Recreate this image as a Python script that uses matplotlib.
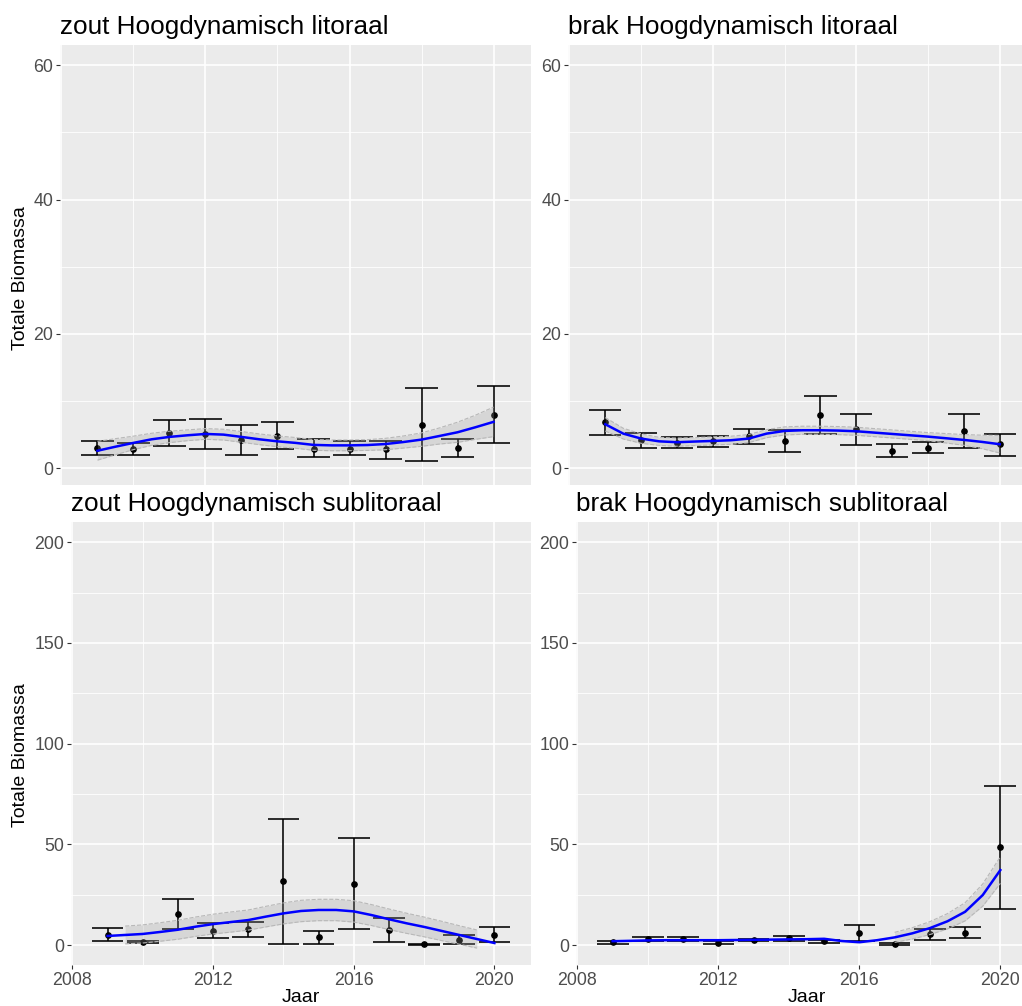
import numpy as np
import matplotlib
matplotlib.use("Agg")
import matplotlib.pyplot as plt

plt.rcParams["font.family"] = ["Liberation Sans", "DejaVu Sans"]

# jaarlijkse gemiddelden met onder- en bovengrens
YEARS = [2009, 2010, 2011, 2012, 2013, 2014, 2015, 2016, 2017, 2018, 2019, 2020]
SMOOTH_X = np.arange(2009, 2020.01, 0.5)
NAN = np.nan

TITLES = ["zout Hoogdynamisch litoraal", "brak Hoogdynamisch litoraal",
          "zout Hoogdynamisch sublitoraal", "brak Hoogdynamisch sublitoraal"]

# zout litoraal
ZL_MEAN = [3.07, 2.9, 5.25, 5.15, 4.2, 4.85, 2.9, 2.9, 2.8, 6.5, 3.07, 7.93]
ZL_HI = [4.0, 3.8, 7.2, 7.3, 6.5, 6.85, 4.3, 4.0, 4.06, 12.0, 4.3, 12.2]
ZL_LO = [2.0, 2.0, 3.3, 2.8, 1.9, 2.8, 1.6, 2.0, 1.34, 1.04, 1.73, 3.77]
ZL_FIT = [2.6, 3.2, 3.77, 4.3, 4.66, 4.9, 5.1, 5.0, 4.66, 4.3, 4.0, 3.77,
          3.47, 3.4, 3.4, 3.45, 3.6, 3.9, 4.26, 4.8, 5.35, 6.1, 6.9]
ZL_SE = [1.4, 1.2, 1.0, 0.9, 0.85, 0.8, 0.8, 0.8, 0.8, 0.8, 0.8, 0.8,
         0.8, 0.8, 0.8, 0.8, 0.85, 0.9, 1.0, 1.2, 1.5, 1.8, 2.2]

# brak litoraal
BL_MEAN = [6.9, 4.16, 3.8, 4.06, 4.76, 4.06, 7.93, 5.8, 2.63, 3.07, 5.55, 3.57]
BL_HI = [8.7, 5.3, 4.66, 4.85, 5.8, 5.75, 10.75, 8.07, 3.57, 3.87, 8.0, 5.1]
BL_LO = [5.0, 2.97, 3.0, 3.17, 3.67, 2.38, 5.15, 3.5, 1.73, 2.33, 3.0, 1.88]
BL_FIT = [6.54, 5.15, 4.41, 4.0, 3.87, 3.97, 4.06, 4.16, 4.41, 5.15, 5.55, 5.65,
          5.65, 5.6, 5.5, 5.3, 5.1, 4.9, 4.7, 4.46, 4.21, 3.92, 3.57]
BL_SE = [1.0, 0.8, 0.7, 0.6, 0.6, 0.6, 0.6, 0.6, 0.6, 0.6, 0.6, 0.6,
         0.6, 0.6, 0.6, 0.6, 0.6, 0.6, 0.6, 0.7, 0.8, 1.0, 1.3]

# zout sublitoraal
ZS_MEAN = [5.3, 1.5, 15.7, 7.2, 7.9, 31.8, 4.1, 30.5, 7.4, 0.5, 2.8, 5.3]
ZS_HI = [8.4, 2.0, 23.1, 10.9, 11.5, 62.7, 7.2, 53.3, 13.4, 0.8, 4.95, 9.2]
ZS_LO = [2.3, 1.0, 8.2, 3.6, 4.1, 0.8, 0.8, 7.9, 1.6, 0.3, 0.8, 1.6]
ZS_FIT = [4.6, 5.1, 5.6, 6.6, 7.7, 9.2, 10.5, 11.5, 12.5, 14.2, 15.8, 17.0,
          17.5, 17.5, 16.8, 15.0, 12.9, 10.9, 9.1, 7.1, 5.1, 3.1, 1.1]
ZS_SE = [NAN, 4.4, 4.5, 4.6, 4.7, 4.8, 4.9, 5.0, 5.0, 5.1, 5.2, 5.3,
         5.3, 5.3, 5.3, 5.2, 5.1, 5.0, 4.9, 4.8, 4.6, 4.5, NAN]

# brak sublitoraal
BS_MEAN = [1.5, 3.1, 3.0, 1.3, 2.6, 3.6, 2.0, 6.1, 0.6, 5.4, 6.1, 48.5]
BS_HI = [2.0, 4.1, 4.0, 2.0, 3.3, 4.6, 2.6, 9.9, 0.95, 8.1, 8.9, 79.2]
BS_LO = [0.8, 2.0, 2.0, 0.8, 2.0, 2.0, 1.1, 2.0, 0.3, 2.5, 3.5, 18.0]
BS_FIT = [2.0, 2.2, 2.4, 2.5, 2.5, 2.5, 2.5, 2.6, 2.7, 2.8, 2.9, 3.0,
          3.2, 2.1, 1.5, 2.5, 3.9, 5.9, 8.5, 11.9, 16.6, 24.9, 37.3]
BS_SE = [NAN, NAN, NAN, NAN, NAN, NAN, NAN, NAN, NAN, NAN, NAN, NAN,
         NAN, NAN, NAN, NAN, 2.5, 2.8, 3.2, 3.8, 4.5, 5.5, 6.6]

X_TICKS = [2008, 2012, 2016, 2020]
X_MINOR = [2010, 2014, 2018]
Y_TICKS_LIT = [0, 20, 40, 60]
Y_MINOR_LIT = [10, 30, 50]
Y_TICKS_SUB = [0, 50, 100, 150, 200]
Y_MINOR_SUB = [25, 75, 125, 175]

W, H = 1022, 1006
fig = plt.figure(figsize=(W / 100, H / 100), dpi=100)


def px_axes(left, right, top, bottom):
    return fig.add_axes([left / W, 1 - bottom / H, (right - left) / W, (bottom - top) / H])


def panel(ax, title, mean, lo, hi, fit, se, ylim, yticks, yminor, xlabels):
    ax.set_facecolor("#EBEBEB")
    for s in ax.spines.values():
        s.set_visible(False)
    ax.set_xlim(2007.96, 2021.04)
    ax.set_ylim(*ylim)
    ax.set_xticks(X_TICKS)
    ax.set_xticks(X_MINOR, minor=True)
    ax.set_yticks(yticks)
    ax.set_yticks(yminor, minor=True)
    ax.grid(which="major", color="white", linewidth=1.2)
    ax.grid(which="minor", color="white", linewidth=0.6)
    ax.set_axisbelow(True)
    ax.tick_params(which="minor", length=0)
    ax.tick_params(which="major", color="#333333", length=3, width=0.8,
                   labelsize=12.8, labelcolor="#4D4D4D", pad=2)
    if not xlabels:
        ax.tick_params(axis="x", which="major", length=0, labelbottom=False)
    else:
        ax.set_xlabel("Jaar", fontsize=14, labelpad=0)

    x = np.array(YEARS)
    ax.vlines(x, lo, hi, color="black", linewidth=1.15, zorder=3)
    ax.hlines(hi, x - 0.45, x + 0.45, color="black", linewidth=1.15, zorder=3)
    ax.hlines(lo, x - 0.45, x + 0.45, color="black", linewidth=1.15, zorder=3)
    ax.plot(x, mean, "o", color="black", markersize=3.8, zorder=4)

    fit = np.array(fit)
    se = np.array(se)
    ax.fill_between(SMOOTH_X, fit - se, fit + se, color="#9A9A9A",
                    alpha=0.26, linewidth=0, zorder=5)
    ax.plot(SMOOTH_X, fit - se, color="#B8B8B8", linestyle="--", linewidth=0.8, zorder=5)
    ax.plot(SMOOTH_X, fit + se, color="#B8B8B8", linestyle="--", linewidth=0.8, zorder=5)
    ax.plot(SMOOTH_X, fit, color="#0000FF", linewidth=1.8, zorder=6)
    ax.set_title(title, loc="left", fontsize=18.8, pad=8)


ax1 = px_axes(60, 531, 45, 485)
panel(ax1, TITLES[0], ZL_MEAN, ZL_LO, ZL_HI, ZL_FIT, ZL_SE,
      (-2.5, 63), Y_TICKS_LIT, Y_MINOR_LIT, False)
ax2 = px_axes(568, 1037, 45, 485)
panel(ax2, TITLES[1], BL_MEAN, BL_LO, BL_HI, BL_FIT, BL_SE,
      (-2.5, 63), Y_TICKS_LIT, Y_MINOR_LIT, False)
ax3 = px_axes(71, 531, 522, 965)
panel(ax3, TITLES[2], ZS_MEAN, ZS_LO, ZS_HI, ZS_FIT, ZS_SE,
      (-9.8, 210), Y_TICKS_SUB, Y_MINOR_SUB, True)
ax4 = px_axes(576, 1037, 522, 965)
panel(ax4, TITLES[3], BS_MEAN, BS_LO, BS_HI, BS_FIT, BS_SE,
      (-9.8, 210), Y_TICKS_SUB, Y_MINOR_SUB, True)

fig.text(21 / W, 1 - 278 / H, "Totale Biomassa", rotation=90,
         ha="center", va="center", fontsize=14)
fig.text(21 / W, 1 - 755 / H, "Totale Biomassa", rotation=90,
         ha="center", va="center", fontsize=14)

fig.savefig("out.png", dpi=100, facecolor="white")
